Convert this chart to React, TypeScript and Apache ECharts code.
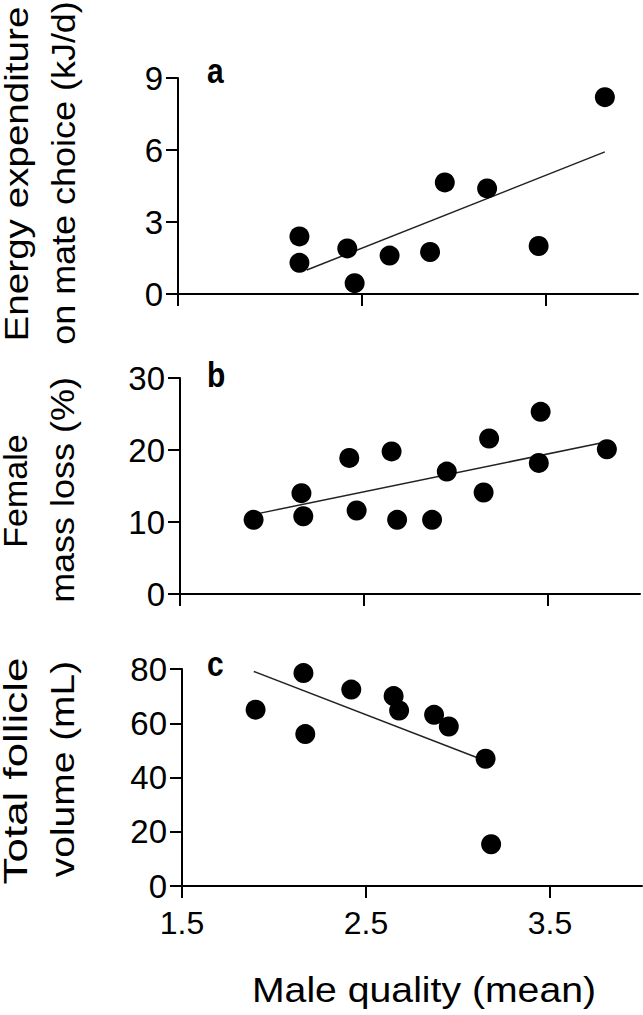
import React, { useEffect, useRef } from "react";
import * as echarts from "echarts";

// Panel a: energy expenditure on mate choice (kJ/d)
const aX = [2.16, 2.16, 2.42, 2.46, 2.65, 2.87, 2.95, 3.18, 3.46, 3.82];
const aY = [2.4, 1.3, 1.9, 0.45, 1.6, 1.75, 4.65, 4.4, 2.0, 8.2];
const aFitX = [2.2, 3.82];
const aFitY = [1.0, 5.92];

// Panel b: female mass loss (%)
const bX = [1.9, 2.16, 2.17, 2.42, 2.46, 2.65, 2.68, 2.87, 2.95, 3.15, 3.18, 3.45, 3.46, 3.82];
const bY = [10.3, 14.0, 10.8, 18.9, 11.6, 19.8, 10.3, 10.3, 17.0, 14.1, 21.6, 18.2, 25.3, 20.1];
const bFitX = [1.93, 3.84];
const bFitY = [11.2, 21.25];

// Panel c: total follicle volume (mL)
const cX = [1.9, 2.16, 2.17, 2.42, 2.65, 2.68, 2.87, 2.95, 3.15, 3.18];
const cY = [65, 78.5, 56, 72.4, 70, 64.7, 63.1, 58.8, 46.9, 15.4];
const cFitX = [1.89, 3.12];
const cFitY = [79.1, 46.9];

const xTicks = [1.5, 2.5, 3.5];
const aTicks = [0, 3, 6, 9];
const bTicks = [0, 10, 20, 30];
const cTicks = [0, 20, 40, 60, 80];

const xTitle = "Male quality (mean)";
const aTitle = ["Energy expenditure", "on mate choice (kJ/d)"];
const bTitle = ["Female", "mass loss (%)"];
const cTitle = ["Total follicle", "volume (mL)"];
const letters = ["a", "b", "c"];

const FONT = "'Liberation Sans', Arial, sans-serif";

const zip = (xs: number[], ys: number[]) => xs.map((x, i) => [x, ys[i]]);

export default function App() {
  const ref = useRef<HTMLDivElement>(null);
  useEffect(() => {
    document.body.style.margin = "0";
    const chart = echarts.init(ref.current!, null, { renderer: "svg" });

    const grids = [
      { left: 178, top: 78, width: 460, height: 216 },
      { left: 180, top: 378, width: 460, height: 216 },
      { left: 182, top: 669, width: 460, height: 217 },
    ];
    const yTicks = [aTicks, bTicks, cTicks];
    const pts = [zip(aX, aY), zip(bX, bY), zip(cX, cY)];
    const fits = [zip(aFitX, aFitY), zip(bFitX, bFitY), zip(cFitX, cFitY)];

    const axisLine = { show: true, onZero: false, lineStyle: { color: "#000", width: 2 } };
    const xAxis = grids.map((_, i) => ({
      type: "value",
      gridIndex: i,
      min: 1.5,
      max: 4.0,
      axisLine,
      axisTick: { show: true, inside: false, length: 12, customValues: xTicks, lineStyle: { color: "#000", width: 2 } },
      axisLabel: {
        show: i === 2,
        customValues: xTicks,
        margin: 21,
        color: "#000",
        fontSize: 32,
        fontFamily: FONT,
        formatter: (v: number) => v.toFixed(1),
      },
      splitLine: { show: false },
    }));
    const yAxis = grids.map((_, i) => {
      const t = yTicks[i];
      return {
        type: "value",
        gridIndex: i,
        min: t[0],
        max: t[t.length - 1],
        interval: t[1] - t[0],
        axisLine,
        axisTick: { show: true, inside: false, length: 12, lineStyle: { color: "#000", width: 2 } },
        axisLabel: { margin: 15, color: "#000", fontSize: 33, fontFamily: FONT },
        splitLine: { show: false },
      };
    });

    const series: any[] = [];
    for (let i = 0; i < 3; i++) {
      series.push({
        type: "line",
        xAxisIndex: i,
        yAxisIndex: i,
        data: fits[i],
        symbol: "none",
        lineStyle: { color: "#222", width: 1.5 },
        z: 1,
      });
      series.push({
        type: "scatter",
        xAxisIndex: i,
        yAxisIndex: i,
        data: pts[i],
        symbolSize: 20,
        itemStyle: { color: "#000", opacity: 1 },
        z: 2,
      });
    }

    // rotated title lines: [text, centre x, centre y, stretch along text]
    const rot = (s: string, x: number, y: number, sx: number) => ({
      type: "text",
      x,
      y,
      rotation: Math.PI / 2,
      scaleX: sx,
      style: {
        text: s,
        fill: "#000",
        font: `33px ${FONT}`,
        align: "center",
        verticalAlign: "middle",
      },
    });

    const letterPos = [
      [207, 71],
      [207, 375],
      [207, 664],
    ];

    chart.setOption({
      animation: false,
      backgroundColor: "#fff",
      grid: grids.map((g) => ({ ...g, containLabel: false })),
      xAxis,
      yAxis,
      series,
      graphic: [
        rot(aTitle[0], 17, 174, 1.17),
        rot(aTitle[1], 64, 173, 1.09),
        rot(bTitle[0], 16, 491, 1.03),
        rot(bTitle[1], 63, 490, 1.09),
        rot(cTitle[0], 16, 771, 1.33),
        rot(cTitle[1], 63, 769, 1.18),
        ...letters.map((l, i) => ({
          type: "text",
          x: letterPos[i][0],
          y: letterPos[i][1],
          scaleY: 1.15,
          style: {
            text: l,
            fill: "#000",
            font: `bold 30px ${FONT}`,
            align: "left",
            verticalAlign: "middle",
          },
        })),
        {
          type: "text",
          x: 424,
          y: 990,
          scaleX: 1.12,
          style: {
            text: xTitle,
            fill: "#000",
            font: `35px ${FONT}`,
            align: "center",
            verticalAlign: "middle",
          },
        },
      ],
    });
    return () => chart.dispose();
  }, []);
  return <div ref={ref} style={{ width: 643, height: 1015 }} />;
}
